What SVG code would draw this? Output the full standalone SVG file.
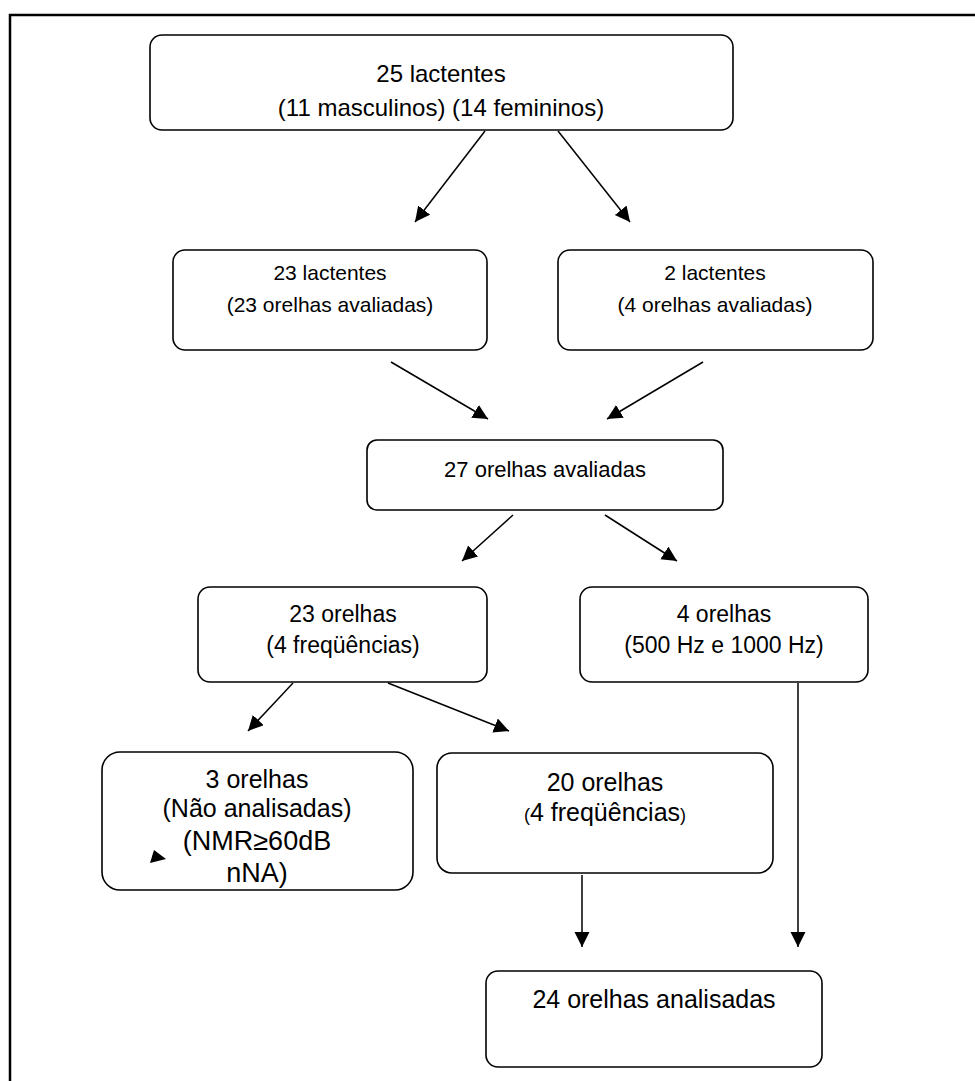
<svg xmlns="http://www.w3.org/2000/svg" width="975" height="1081" viewBox="0 0 975 1081">
<defs>
<style>
.box{fill:#fff;stroke:#000;stroke-width:1.6}
.t{font-family:"Liberation Sans",Arial,sans-serif;font-size:21px;fill:#000;text-anchor:middle}
.top{font-size:24px}
.c3{font-size:22px}
.d{font-size:23px}
.e{font-size:25px}
.nmr{font-size:27px}
.sm{font-size:18px}
.c{stroke:#000;stroke-width:1.5;fill:none;marker-end:url(#ah)}
</style>
<marker id="ah" markerUnits="userSpaceOnUse" markerWidth="16" markerHeight="16" refX="15" refY="7.5" orient="auto">
<path d="M0,0 L15,7.5 L0,15 z" fill="#000"/>
</marker>
</defs>
<rect width="975" height="1081" fill="#fff"/>
<path d="M10,1081 V15 H975" fill="none" stroke="#000" stroke-width="2.5"/>
<g id="n1"><rect class="box" x="150" y="35" width="583" height="95" rx="12"/>
<text class="t top" x="441" y="82">25 lactentes</text>
<text class="t top" x="441" y="116">(11 masculinos) (14 femininos)</text></g>
<g id="n2"><rect class="box" x="173" y="250" width="314" height="100" rx="12"/>
<text class="t" x="330" y="280">23 lactentes</text>
<text class="t" x="330" y="312">(23 orelhas avaliadas)</text></g>
<g id="n3"><rect class="box" x="558" y="250" width="315" height="100" rx="12"/>
<text class="t" x="715" y="280">2 lactentes</text>
<text class="t" x="715" y="312">(4 orelhas avaliadas)</text></g>
<g id="n4"><rect class="box" x="367" y="440" width="356" height="70" rx="10"/>
<text class="t c3" x="545" y="477">27 orelhas avaliadas</text></g>
<g id="n5"><rect class="box" x="198" y="587" width="289" height="95" rx="12"/>
<text class="t d" x="343" y="622">23 orelhas</text>
<text class="t d" x="343" y="653">(4 freqüências)</text></g>
<g id="n6"><rect class="box" x="580" y="587" width="288" height="95" rx="12"/>
<text class="t d" x="724" y="622">4 orelhas</text>
<text class="t d" x="724" y="653">(500 Hz e 1000 Hz)</text></g>
<g id="n7"><rect class="box" x="102" y="752" width="311" height="138" rx="18"/>
<text class="t e" x="257" y="788">3 orelhas</text>
<text class="t e" x="257" y="817">(Não analisadas)</text>
<text class="t nmr" x="257" y="850">(NMR≥60dB</text>
<text class="t nmr" x="257" y="882">nNA)</text></g>
<g id="n8"><rect class="box" x="437" y="753" width="336" height="120" rx="15"/>
<text class="t e" x="605" y="791">20 orelhas</text>
<text class="t e" x="605" y="821"><tspan class="sm">(</tspan>4 freqüências<tspan class="sm">)</tspan></text></g>
<g id="n9"><rect class="box" x="486" y="971" width="336" height="96" rx="12"/>
<text class="t e" x="654" y="1008">24 orelhas analisadas</text></g>
<g id="connectors">
<line class="c" x1="485" y1="131" x2="415" y2="222"/>
<line class="c" x1="558" y1="131" x2="630" y2="222"/>
<line class="c" x1="391" y1="362" x2="488" y2="419"/>
<line class="c" x1="703" y1="362" x2="607" y2="419"/>
<line class="c" x1="513" y1="515" x2="462" y2="561"/>
<line class="c" x1="605" y1="515" x2="677" y2="561"/>
<line class="c" x1="293" y1="683" x2="248" y2="731"/>
<line class="c" x1="388" y1="683" x2="509" y2="731"/>
<line class="c" x1="582" y1="875" x2="582" y2="947"/>
<line class="c" x1="798" y1="683" x2="798" y2="947"/>
<polygon points="150,863 154,850 166,859" fill="#000"/>
</g>
</svg>
